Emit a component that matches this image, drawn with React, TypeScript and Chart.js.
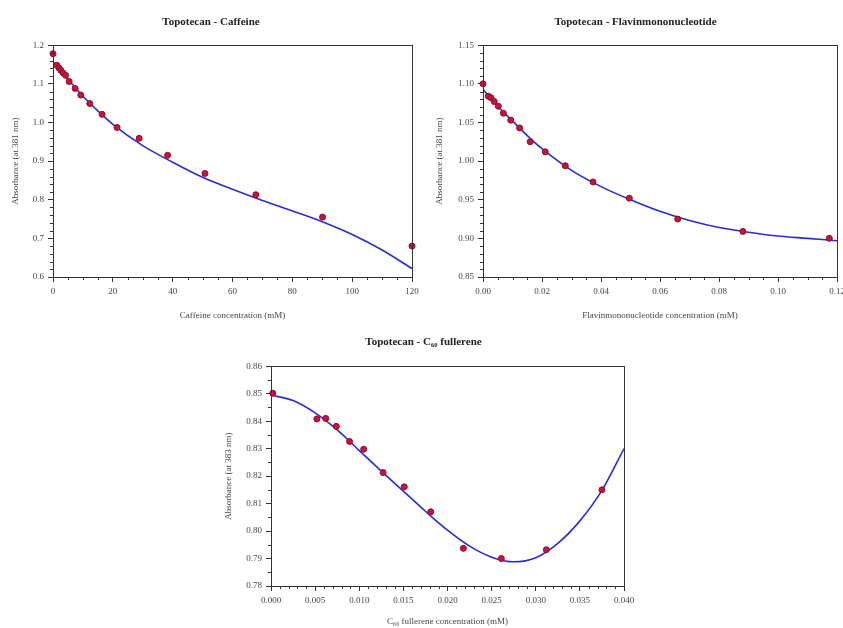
import React, { useEffect, useRef } from "react";
import { Chart, registerables } from "chart.js";

Chart.register(...registerables);

// ---------- Data: Topotecan - Caffeine ----------
const caffeineX = [0, 1.3, 2.0, 2.6, 3.4, 4.2, 5.4, 7.4, 9.3, 12.3, 16.4, 21.4, 28.8, 38.3, 50.8, 67.8, 90.1, 120];
const caffeineY = [1.178, 1.148, 1.141, 1.135, 1.128, 1.122, 1.106, 1.088, 1.071, 1.049, 1.021, 0.987, 0.959, 0.915, 0.868, 0.813, 0.755, 0.68];
const caffeineFitX = [0, 2, 5, 10, 15, 20, 30, 40, 50, 60, 70, 80, 90, 100, 110, 120];
const caffeineFitY = [1.157, 1.138, 1.112, 1.068, 1.03, 0.995, 0.94, 0.897, 0.858, 0.827, 0.798, 0.771, 0.743, 0.71, 0.67, 0.622];
const caffeineXTicks = [0, 20, 40, 60, 80, 100, 120];
const caffeineXLabels = ["0", "20", "40", "60", "80", "100", "120"];
const caffeineYTicks = [0.6, 0.7, 0.8, 0.9, 1.0, 1.1, 1.2];
const caffeineYLabels = ["0.6", "0.7", "0.8", "0.9", "1.0", "1.1", "1.2"];

// ---------- Data: Topotecan - Flavinmononucleotide ----------
const fmnX = [0, 0.0018, 0.0027, 0.0038, 0.0052, 0.0069, 0.0094, 0.0124, 0.016, 0.0211, 0.0279, 0.0373, 0.0496, 0.066, 0.0881, 0.1174];
const fmnY = [1.1, 1.084, 1.082, 1.077, 1.071, 1.062, 1.053, 1.043, 1.025, 1.012, 0.994, 0.973, 0.952, 0.925, 0.909, 0.9];
const fmnFitX = [0, 0.005, 0.01, 0.015, 0.02, 0.03, 0.04, 0.05, 0.06, 0.07, 0.08, 0.09, 0.1, 0.11, 0.12];
const fmnFitY = [1.093, 1.071, 1.052, 1.033, 1.016, 0.988, 0.967, 0.95, 0.935, 0.923, 0.914, 0.908, 0.903, 0.9, 0.897];
const fmnXTicks = [0, 0.02, 0.04, 0.06, 0.08, 0.1, 0.12];
const fmnXLabels = ["0.00", "0.02", "0.04", "0.06", "0.08", "0.10", "0.12"];
const fmnYTicks = [0.85, 0.9, 0.95, 1.0, 1.05, 1.1, 1.15];
const fmnYLabels = ["0.85", "0.90", "0.95", "1.00", "1.05", "1.10", "1.15"];

// ---------- Data: Topotecan - C60 fullerene ----------
const c60X = [0.0002, 0.0052, 0.0062, 0.0074, 0.0089, 0.0105, 0.0127, 0.0151, 0.0181, 0.0218, 0.0261, 0.0312, 0.0375];
const c60Y = [0.8502, 0.8408, 0.841, 0.8381, 0.8326, 0.8298, 0.8213, 0.8161, 0.807, 0.7937, 0.79, 0.7932, 0.815];
const c60FitX = [0, 0.0025, 0.005, 0.0075, 0.01, 0.0125, 0.015, 0.0175, 0.02, 0.0225, 0.025, 0.0275, 0.03, 0.0325, 0.035, 0.0375, 0.04];
const c60FitY = [0.8495, 0.8475, 0.843, 0.8368, 0.8293, 0.8218, 0.8145, 0.8072, 0.8003, 0.7945, 0.7905, 0.7888, 0.7903, 0.7955, 0.8037, 0.8148, 0.83];
const c60XTicks = [0, 0.005, 0.01, 0.015, 0.02, 0.025, 0.03, 0.035, 0.04];
const c60XLabels = ["0.000", "0.005", "0.010", "0.015", "0.020", "0.025", "0.030", "0.035", "0.040"];
const c60YTicks = [0.78, 0.79, 0.8, 0.81, 0.82, 0.83, 0.84, 0.85, 0.86];
const c60YLabels = ["0.78", "0.79", "0.80", "0.81", "0.82", "0.83", "0.84", "0.85", "0.86"];

const FONT = "'Liberation Serif', 'DejaVu Serif', serif";
const TEXT = "#444";
const AXIS = "#333";
const POINT_FILL = "#c8143c";
const POINT_BORDER = "#8a0c2c";
const LINE = "#2b2bd6";

const framePlugin = {
  id: "frameMinor",
  afterDraw(chart: any, _args: any, opts: any) {
    const { ctx, chartArea: a } = chart;
    ctx.save();
    ctx.strokeStyle = AXIS;
    ctx.lineWidth = 1;
    ctx.strokeRect(Math.round(a.left) + 0.5, Math.round(a.top) + 0.5, Math.round(a.right - a.left), Math.round(a.bottom - a.top));
    ["x", "y"].forEach((id) => {
      const s = chart.scales[id];
      const n = opts && opts[id];
      if (!s || !n) return;
      const t = s.ticks.map((tk: any) => tk.value);
      for (let i = 0; i < t.length - 1; i++) {
        const st = (t[i + 1] - t[i]) / n;
        for (let k = 1; k < n; k++) {
          const p = Math.round(s.getPixelForValue(t[i] + st * k)) + 0.5;
          ctx.beginPath();
          if (id === "x") {
            ctx.moveTo(p, a.bottom);
            ctx.lineTo(p, a.bottom + 3);
          } else {
            ctx.moveTo(a.left, p);
            ctx.lineTo(a.left - 3, p);
          }
          ctx.stroke();
        }
      }
    });
    ctx.restore();
  },
};

type PanelProps = {
  left: number;
  top: number;
  width: number;
  height: number;
  padLeft: number;
  padRight: number;
  yWidth: number;
  xHeight: number;
  titlePadTop: number;
  titlePadBottom: number;
  title: string;
  xTitle: string;
  yTitle: string;
  px: number[];
  py: number[];
  fx: number[];
  fy: number[];
  xTicks: number[];
  xLabels: string[];
  yTicks: number[];
  yLabels: string[];
  xMinor: number;
  yMinor: number;
};

function Panel(p: PanelProps) {
  const ref = useRef<HTMLCanvasElement | null>(null);
  useEffect(() => {
    if (!ref.current) return;
    const points = p.px.map((x, i) => ({ x, y: p.py[i] }));
    const fit = p.fx.map((x, i) => ({ x, y: p.fy[i] }));
    const tickFont = { family: FONT, size: 9 };
    const chart = new Chart(ref.current, {
      type: "scatter",
      data: {
        datasets: [
          {
            type: "scatter",
            data: points,
            pointStyle: "circle",
            pointRadius: 3,
            backgroundColor: POINT_FILL,
            borderColor: POINT_BORDER,
            borderWidth: 1,
            clip: false,
            order: 0,
          } as any,
          {
            type: "line",
            data: fit,
            borderColor: LINE,
            borderWidth: 1.6,
            pointRadius: 0,
            fill: false,
            cubicInterpolationMode: "monotone",
            order: 1,
          } as any,
        ],
      },
      options: {
        animation: false,
        responsive: false,
        devicePixelRatio: 1,
        layout: { padding: { left: p.padLeft, right: p.padRight, top: 0, bottom: 0 } },
        plugins: {
          legend: { display: false },
          tooltip: { enabled: false },
          title: {
            display: true,
            text: p.title,
            color: "#222",
            font: { family: FONT, size: 11, weight: "bold" },
            padding: { top: p.titlePadTop, bottom: p.titlePadBottom },
          },
          frameMinor: { x: p.xMinor, y: p.yMinor },
        } as any,
        scales: {
          x: {
            type: "linear",
            min: p.xTicks[0],
            max: p.xTicks[p.xTicks.length - 1],
            afterBuildTicks: (s: any) => {
              s.ticks = p.xTicks.map((v) => ({ value: v }));
            },
            afterFit: (s: any) => {
              s.height = p.xHeight;
            },
            ticks: {
              autoSkip: false,
              maxRotation: 0,
              padding: 4,
              color: TEXT,
              font: tickFont,
              callback: (_v: any, i: number) => p.xLabels[i],
            },
            grid: { drawOnChartArea: false, tickLength: 5, color: AXIS },
            border: { display: true, color: AXIS, width: 1 },
            title: {
              display: true,
              text: p.xTitle,
              color: TEXT,
              font: { family: FONT, size: 9 },
              padding: { top: 0, bottom: 1 },
            },
          },
          y: {
            type: "linear",
            min: p.yTicks[0],
            max: p.yTicks[p.yTicks.length - 1],
            afterBuildTicks: (s: any) => {
              s.ticks = p.yTicks.map((v) => ({ value: v }));
            },
            afterFit: (s: any) => {
              s.width = p.yWidth;
            },
            ticks: {
              autoSkip: false,
              padding: 4,
              color: TEXT,
              font: tickFont,
              callback: (_v: any, i: number) => p.yLabels[i],
            },
            grid: { drawOnChartArea: false, tickLength: 5, color: AXIS },
            border: { display: true, color: AXIS, width: 1 },
            title: {
              display: true,
              text: p.yTitle,
              color: TEXT,
              font: { family: FONT, size: 9 },
              padding: { top: 0, bottom: 0 },
            },
          },
        },
      } as any,
      plugins: [framePlugin as any],
    });
    return () => chart.destroy();
  }, []);
  return (
    <canvas
      ref={ref}
      width={p.width}
      height={p.height}
      style={{ position: "absolute", left: p.left, top: p.top, width: p.width, height: p.height }}
    />
  );
}

export default function App() {
  return (
    <div
      style={{
        position: "absolute",
        left: 0,
        top: 0,
        width: 843,
        height: 628,
        overflow: "hidden",
        background: "#fff",
      }}
    >
      <Panel
        left={0}
        top={0}
        width={424}
        height={322}
        padLeft={10}
        padRight={12}
        yWidth={43}
        xHeight={45}
        titlePadTop={16}
        titlePadBottom={16}
        title="Topotecan - Caffeine"
        xTitle="Caffeine concentration (mM)"
        yTitle="Absorbance (at 381 nm)"
        px={caffeineX}
        py={caffeineY}
        fx={caffeineFitX}
        fy={caffeineFitY}
        xTicks={caffeineXTicks}
        xLabels={caffeineXLabels}
        yTicks={caffeineYTicks}
        yLabels={caffeineYLabels}
        xMinor={4}
        yMinor={5}
      />
      <Panel
        left={420}
        top={0}
        width={432}
        height={322}
        padLeft={14}
        padRight={15}
        yWidth={49}
        xHeight={45}
        titlePadTop={16}
        titlePadBottom={16}
        title="Topotecan - Flavinmononucleotide"
        xTitle="Flavinmononucleotide concentration (mM)"
        yTitle="Absorbance (at 381 nm)"
        px={fmnX}
        py={fmnY}
        fx={fmnFitX}
        fy={fmnFitY}
        xTicks={fmnXTicks}
        xLabels={fmnXLabels}
        yTicks={fmnYTicks}
        yLabels={fmnYLabels}
        xMinor={4}
        yMinor={5}
      />
      <Panel
        left={196}
        top={320}
        width={450}
        height={308}
        padLeft={27}
        padRight={22}
        yWidth={48}
        xHeight={42}
        titlePadTop={16}
        titlePadBottom={17}
        title="Topotecan - C₆₀ fullerene"
        xTitle="C₆₀ fullerene concentration (mM)"
        yTitle="Absorbance (at 383 nm)"
        px={c60X}
        py={c60Y}
        fx={c60FitX}
        fy={c60FitY}
        xTicks={c60XTicks}
        xLabels={c60XLabels}
        yTicks={c60YTicks}
        yLabels={c60YLabels}
        xMinor={5}
        yMinor={2}
      />
    </div>
  );
}
